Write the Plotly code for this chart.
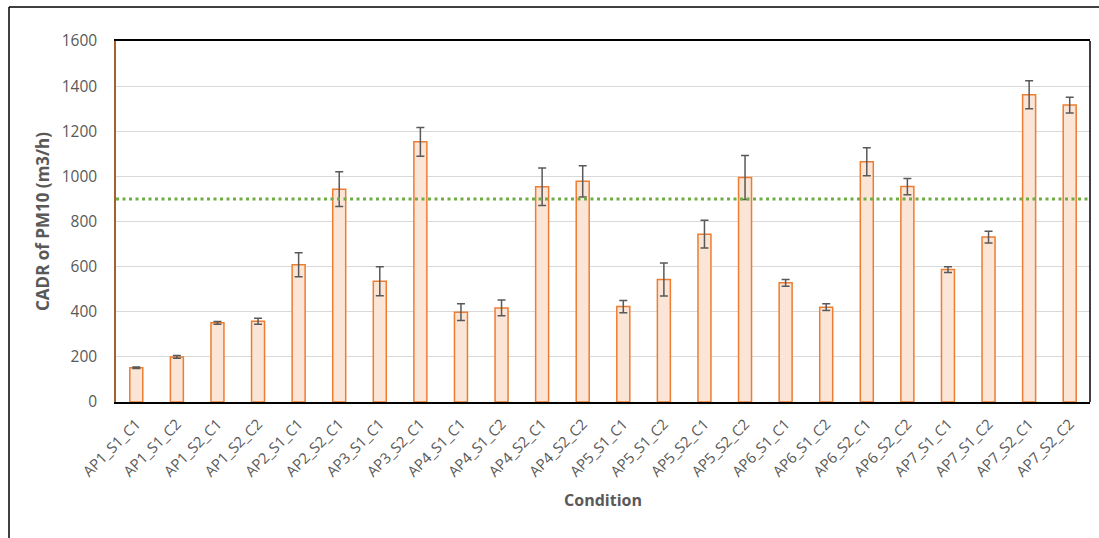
import plotly.graph_objects as go

categories = ["AP1_S1_C1", "AP1_S1_C2", "AP1_S2_C1", "AP1_S2_C2", "AP2_S1_C1", "AP2_S2_C1",
              "AP3_S1_C1", "AP3_S2_C1", "AP4_S1_C1", "AP4_S1_C2", "AP4_S2_C1", "AP4_S2_C2",
              "AP5_S1_C1", "AP5_S1_C2", "AP5_S2_C1", "AP5_S2_C2", "AP6_S1_C1", "AP6_S1_C2",
              "AP6_S2_C1", "AP6_S2_C2", "AP7_S1_C1", "AP7_S1_C2", "AP7_S2_C1", "AP7_S2_C2"]
cadr = [152, 200, 351, 358, 608, 943, 535, 1153, 398, 417, 954, 978,
        423, 543, 744, 995, 528, 420, 1065, 955, 587, 731, 1362, 1316]
err = [3, 6, 6, 13, 53, 77, 64, 64, 37, 35, 83, 69,
       27, 73, 61, 97, 15, 15, 62, 36, 13, 26, 62, 35]
threshold = 900
y_ticks = [0, 200, 400, 600, 800, 1000, 1200, 1400, 1600]

W, H = 1099, 538
L, R, T, B = 116, 9, 41, 136
pw, ph = W - L - R, H - T - B

fig = go.Figure()
fig.add_trace(go.Bar(
    x=categories, y=cadr,
    marker=dict(color="#FBE5D6", line=dict(color="#ED7D31", width=1.5)),
    error_y=dict(type="data", array=err, visible=True, color="#595959", thickness=1.5, width=4),
    showlegend=False,
))

# threshold line
fig.add_shape(type="line", xref="paper", yref="y", x0=0, x1=1, y0=threshold, y1=threshold,
              line=dict(color="#70AD47", width=3, dash="3px,3.5px"), layer="above")

# right border of plot area
fig.add_shape(type="line", xref="paper", yref="paper", x0=1, x1=1, y0=0, y1=1,
              line=dict(color="#000000", width=1.5))

# outer frame (top and left edges)
def px_x(px):
    return (px - L) / pw

def px_y(py):
    return (H - B - py) / ph

fig.add_shape(type="line", xref="paper", yref="paper", x0=px_x(9), x1=px_x(1099),
              y0=px_y(7), y1=px_y(7), line=dict(color="#000000", width=1.5))
fig.add_shape(type="line", xref="paper", yref="paper", x0=px_x(9), x1=px_x(9),
              y0=px_y(7), y1=px_y(540), line=dict(color="#000000", width=1.5))

fig.update_layout(
    width=W, height=H,
    margin=dict(l=L, r=R, t=T, b=B),
    paper_bgcolor="white", plot_bgcolor="white",
    bargap=0.68,
    font=dict(family="Open Sans", color="#595959"),
    xaxis=dict(
        tickangle=-45, tickfont=dict(size=14.8, color="#595959"),
        showline=True, linecolor="#000000", linewidth=1.5, mirror=True,
        showgrid=False, ticks="", ticklabelstandoff=6,
        title=dict(text="<b>Condition</b>", font=dict(size=16, color="#595959"), standoff=15),
    ),
    yaxis=dict(
        range=[0, 1600], tickvals=y_ticks, tickfont=dict(size=15.5, color="#595959"),
        showline=True, linecolor="#A0612F", linewidth=1.5,
        showgrid=True, gridcolor="#D9D9D9", gridwidth=1, zeroline=False,
        ticks="", ticklabelstandoff=14,
        title=dict(text="<b>CADR of PM10 (m3/h)</b>", font=dict(size=17, color="#595959"), standoff=8),
    ),
)

fig.write_html("out.html", config={"displayModeBar": False},
               post_script="document.body.style.margin='0';")
